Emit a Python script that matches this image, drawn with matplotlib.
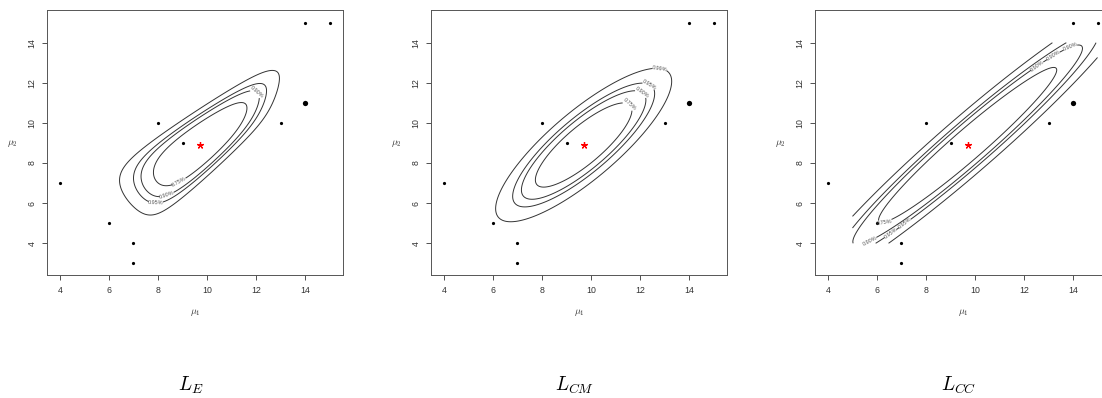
import numpy as np
import matplotlib
matplotlib.use('Agg')
import matplotlib.pyplot as plt

plt.rcParams['mathtext.fontset'] = 'cm'
plt.rcParams['font.family'] = ['Liberation Sans', 'DejaVu Sans']

# observed sample (mu1, mu2)
x_obs = np.array([4, 6, 7, 7, 8, 9, 13, 14, 14, 15], dtype=float)
y_obs = np.array([7, 5, 4, 3, 10, 9, 10, 11, 15, 15], dtype=float)
# point drawn heavier
heavy_x = [14]
heavy_y = [11]

conf = [0.75, 0.90, 0.95, 0.99]
conf_txt = ['0.75%', '0.90%', '0.95%', '0.99%']
captions = ['$L_E$', '$L_{CM}$', '$L_{CC}$']

n = len(x_obs)
xbar, ybar = x_obs.mean(), y_obs.mean()
crit = -2 * np.log(1 - np.array(conf))   # chi2(2) quantiles

gx = np.linspace(5, 15, 201)
gy = np.linspace(4, 14, 201)
MX, MY = np.meshgrid(gx, gy)


def el_stat(mx, my):
    # -2 log empirical likelihood ratio for the mean, Owen's pseudo-log
    z = np.stack([x_obs[None, :] - mx.ravel()[:, None],
                  y_obs[None, :] - my.ravel()[:, None]], axis=-1)
    eps = 1.0 / n
    lam = np.zeros((z.shape[0], 2))
    for _ in range(50):
        w = 1 + np.einsum('mkj,mj->mk', z, lam)
        d1 = np.where(w >= eps, 1 / np.maximum(w, eps), 2 / eps - w / eps**2)
        d2 = np.where(w >= eps, -1 / np.maximum(w, eps)**2, -1 / eps**2)
        g = np.einsum('mk,mkj->mj', d1, z)
        H = np.einsum('mk,mki,mkj->mij', d2, z, z) - 1e-10 * np.eye(2)
        step = np.linalg.solve(H, g[..., None])[..., 0]
        lam = lam - np.nan_to_num(step)
    w = 1 + np.einsum('mkj,mj->mk', z, lam)
    ls = np.where(w >= eps, np.log(np.maximum(w, eps)),
                  np.log(eps) - 1.5 + 2 * w / eps - 0.5 * (w / eps)**2)
    out = 2 * ls.sum(1)
    return np.clip(np.nan_to_num(out, nan=1e3, posinf=1e3), 0, 1e3).reshape(mx.shape)


S = np.cov(np.vstack([x_obs, y_obs]), bias=True)
K = np.linalg.inv(S)
DX, DY = MX - xbar, MY - ybar


def quad(A):
    return A[0, 0] * DX**2 + 2 * A[0, 1] * DX * DY + A[1, 1] * DY**2


stat_E = el_stat(MX, MY)
stat_CM = quad(n * K)

# composite conditional curvature, with adjusted eigenvalues
H_cc = n * (np.outer(K[0], K[0]) / K[0, 0] + np.outer(K[1], K[1]) / K[1, 1])
ev, vec = np.linalg.eigh(H_cc)
H_cc = vec @ np.diag(ev * np.array([1.6, 0.82])) @ vec.T
stat_CC = quad(H_cc)

label_pos = [
    [(12.16, 11.73), (8.75, 7.3), (8.3, 6.6), (7.91, 5.74)],
    [(12.79, 12.59), (12.34, 11.81), (12.03, 11.43), (11.46, 10.76)],
    [(12.57, 12.8), (13.25, 13.27), (13.93, 13.67),
     (6.31, 5.08), (5.70, 4.16), (6.51, 4.56), (7.2, 4.91)],
]

W, Hh = 1102, 398
fig = plt.figure(figsize=(W / 100, Hh / 100), dpi=100)
lefts = [47, 431, 815]
ink = '#333333'

for k, (stat, left) in enumerate(zip([stat_E, stat_CM, stat_CC], lefts)):
    ax = fig.add_axes([left / W, 1 - 275 / Hh, 296 / W, 265 / Hh])
    cs = ax.contour(MX, MY, stat, levels=crit, colors=ink, linewidths=0.7)
    fmt = dict(zip(cs.levels, conf_txt))
    ax.clabel(cs, fmt=fmt, fontsize=4, colors='#555555', inline=True,
              inline_spacing=1, manual=label_pos[k])
    ax.plot(x_obs, y_obs, 'o', color='black', ms=2.3, mew=0)
    ax.plot(heavy_x, heavy_y, 'o', color='black', ms=3.8, mew=0)
    ax.plot([xbar], [ybar], marker=(5, 2, 0), color='red', ms=5, mew=0.9,
            linestyle='none')
    ax.set_xlim(3.47, 15.55)
    ax.set_ylim(2.42, 15.63)
    ax.set_xticks(range(4, 15, 2))
    ax.set_yticks(range(4, 15, 2))
    ax.tick_params(direction='out', length=3.6, width=0.6, colors=ink,
                   labelsize=6.3, pad=4)
    for lab in ax.get_yticklabels():
        lab.set_rotation(90)
        lab.set_va('center')
    for sp in ax.spines.values():
        sp.set_linewidth(0.7)
        sp.set_color('#555555')
    cx = left + 148
    fig.text(cx / W, 1 - 312 / Hh, r'$\mu_1$', ha='center', va='center',
             fontsize=7, color=ink)
    fig.text((left - 35) / W, 1 - 143 / Hh, r'$\mu_2$', ha='center',
             va='center', fontsize=7, color=ink)
    fig.text((cx - 4) / W, 1 - 391 / Hh, captions[k], ha='center',
             va='baseline', fontsize=14)

fig.savefig('out.png', dpi=100)
